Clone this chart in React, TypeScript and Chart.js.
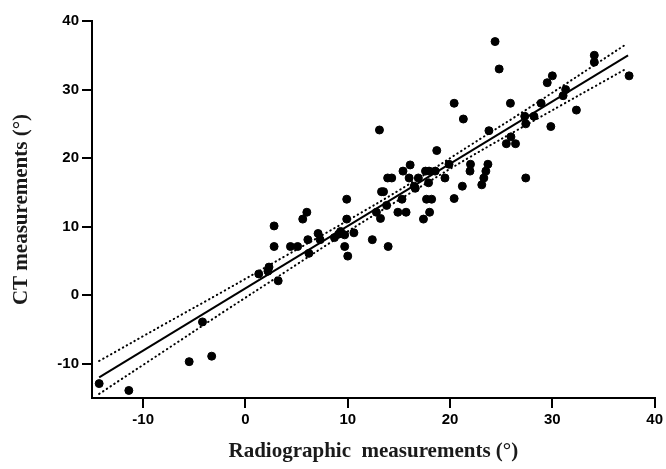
import React, { useEffect, useRef } from "react";
import { Chart, registerables } from "chart.js";

Chart.register(...registerables);

// Scatter data
const radiographic = [
  -14.3, -11.4, -5.5, -4.2, -3.3, 1.3, 2.2, 2.3, 3.2, 2.8, 2.8, 4.4, 5.1, 5.6, 6.0, 6.1, 6.2, 7.1, 7.3,
  8.7, 9.1, 9.3, 9.7, 9.7, 10.0, 9.9, 9.9, 10.6, 12.4, 13.95, 12.8, 13.2, 13.8, 14.9, 15.7, 18.0, 17.4,
  13.3, 13.5, 13.9, 14.3, 16.0, 16.9, 15.3, 15.4, 16.1, 16.5, 16.6, 17.6, 17.95, 18.55, 17.7, 18.2, 17.9,
  18.7, 19.5, 19.9, 20.4, 20.4, 21.3, 21.2, 22.0, 21.95, 23.7, 23.5, 23.3, 23.1, 23.8, 24.4, 24.8, 25.9,
  25.95, 25.5, 26.4, 27.3, 27.4, 28.2, 27.4, 28.9, 29.85, 29.5, 30.0, 31.3, 31.05, 32.35, 34.1, 34.1,
  37.5, 13.1,
];
const ct = [
  -12.9, -13.9, -9.7, -3.9, -8.9, 3.1, 3.5, 4.1, 2.1, 7.1, 10.1, 7.1, 7.1, 11.1, 12.1, 8.1, 6.1, 9.0, 8.1,
  8.4, 8.9, 9.3, 8.8, 7.1, 5.7, 11.1, 14.0, 9.1, 8.1, 7.1, 12.1, 11.2, 13.1, 12.1, 12.1, 12.1, 11.1,
  15.1, 15.1, 17.1, 17.1, 17.1, 17.1, 14.0, 18.1, 19.0, 15.9, 15.6, 18.1, 18.1, 18.1, 14.0, 14.0, 16.4,
  21.1, 17.1, 19.1, 14.1, 28.0, 25.7, 15.9, 19.1, 18.1, 19.1, 18.1, 17.1, 16.1, 24.0, 37.0, 33.0, 28.0,
  23.1, 22.1, 22.1, 26.1, 25.0, 26.1, 17.1, 28.0, 24.6, 31.0, 32.0, 30.0, 29.1, 27.0, 35.0, 34.0,
  32.0, 24.1,
];

// Regression line endpoints
const fitX = [-14.3, 37.4];
const fitY = [-12.0, 35.0];

// 95% confidence band (dotted curves)
const bandX = [-14.3, -8, -2, 4, 10, 16, 22, 28, 37.3];
const bandUpper = [-9.6, -4.3, 0.7, 5.8, 10.9, 16.2, 21.9, 27.6, 36.7];
const bandLower = [-14.4, -8.2, -2.3, 3.5, 9.3, 14.8, 20.2, 25.3, 33.1];

const xTicks = [-10, 0, 10, 20, 30, 40];
const yTicks = [-10, 0, 10, 20, 30, 40];

const xTitle = "Radiographic  measurements (°)";
const yTitle = "CT measurements (°)";

export default function App() {
  const ref = useRef<HTMLCanvasElement | null>(null);

  useEffect(() => {
    if (!ref.current) return;
    const pts = radiographic.map((x, i) => ({ x, y: ct[i] }));
    const fit = fitX.map((x, i) => ({ x, y: fitY[i] }));
    const up = bandX.map((x, i) => ({ x, y: bandUpper[i] }));
    const lo = bandX.map((x, i) => ({ x, y: bandLower[i] }));

    const tickFont = { family: "'Liberation Sans', Arial, sans-serif", size: 15, weight: "bold" as const };
    const titleFont = { family: "'Liberation Serif', 'Times New Roman', serif", size: 21, weight: "bold" as const };

    const chart = new Chart(ref.current, {
      type: "scatter",
      data: {
        datasets: [
          {
            data: pts,
            backgroundColor: "#000",
            borderColor: "#000",
            pointRadius: 4,
            pointHoverRadius: 4,
            order: 0,
          },
          {
            data: fit,
            showLine: true,
            borderColor: "#000",
            borderWidth: 2,
            pointRadius: 0,
            order: 1,
          },
          {
            data: up,
            showLine: true,
            borderColor: "#000",
            borderWidth: 2,
            borderDash: [0.5, 4],
            borderCapStyle: "round",
            tension: 0.4,
            pointRadius: 0,
            order: 2,
          },
          {
            data: lo,
            showLine: true,
            borderColor: "#000",
            borderWidth: 2,
            borderDash: [0.5, 4],
            borderCapStyle: "round",
            tension: 0.4,
            pointRadius: 0,
            order: 3,
          },
        ],
      },
      options: {
        animation: false,
        responsive: true,
        maintainAspectRatio: false,
        layout: { padding: { top: 21, right: 10, left: 0, bottom: 0 } },
        plugins: { legend: { display: false }, tooltip: { enabled: false } },
        scales: {
          x: {
            type: "linear",
            min: -15,
            max: 40,
            afterBuildTicks: (s: any) => {
              s.ticks = xTicks.map((v) => ({ value: v }));
            },
            afterFit: (s: any) => {
              s.height = 71;
            },
            grid: {
              drawOnChartArea: false,
              drawTicks: true,
              tickLength: 10,
              color: "#000",
              lineWidth: 2,
            },
            border: { display: true, color: "#000", width: 2 },
            ticks: { color: "#000", font: tickFont, padding: 3, maxRotation: 0 },
            title: {
              display: true,
              text: xTitle,
              color: "#1a1a1a",
              font: titleFont,
              padding: { top: 0, bottom: 5 },
            },
          },
          y: {
            type: "linear",
            min: -15,
            max: 40,
            afterBuildTicks: (s: any) => {
              s.ticks = yTicks.map((v) => ({ value: v }));
            },
            afterFit: (s: any) => {
              s.width = 92;
            },
            grid: {
              drawOnChartArea: false,
              drawTicks: true,
              tickLength: 10,
              color: "#000",
              lineWidth: 2,
            },
            border: { display: true, color: "#000", width: 2 },
            ticks: { color: "#000", font: tickFont, padding: 3 },
            title: {
              display: true,
              text: yTitle,
              color: "#1a1a1a",
              font: titleFont,
              padding: { top: 9, bottom: 0 },
            },
          },
        },
      },
    });
    return () => chart.destroy();
  }, []);

  return (
    <div style={{ position: "fixed", left: 0, top: 0, width: 666, height: 469, background: "#fff" }}>
      <canvas ref={ref} />
    </div>
  );
}
